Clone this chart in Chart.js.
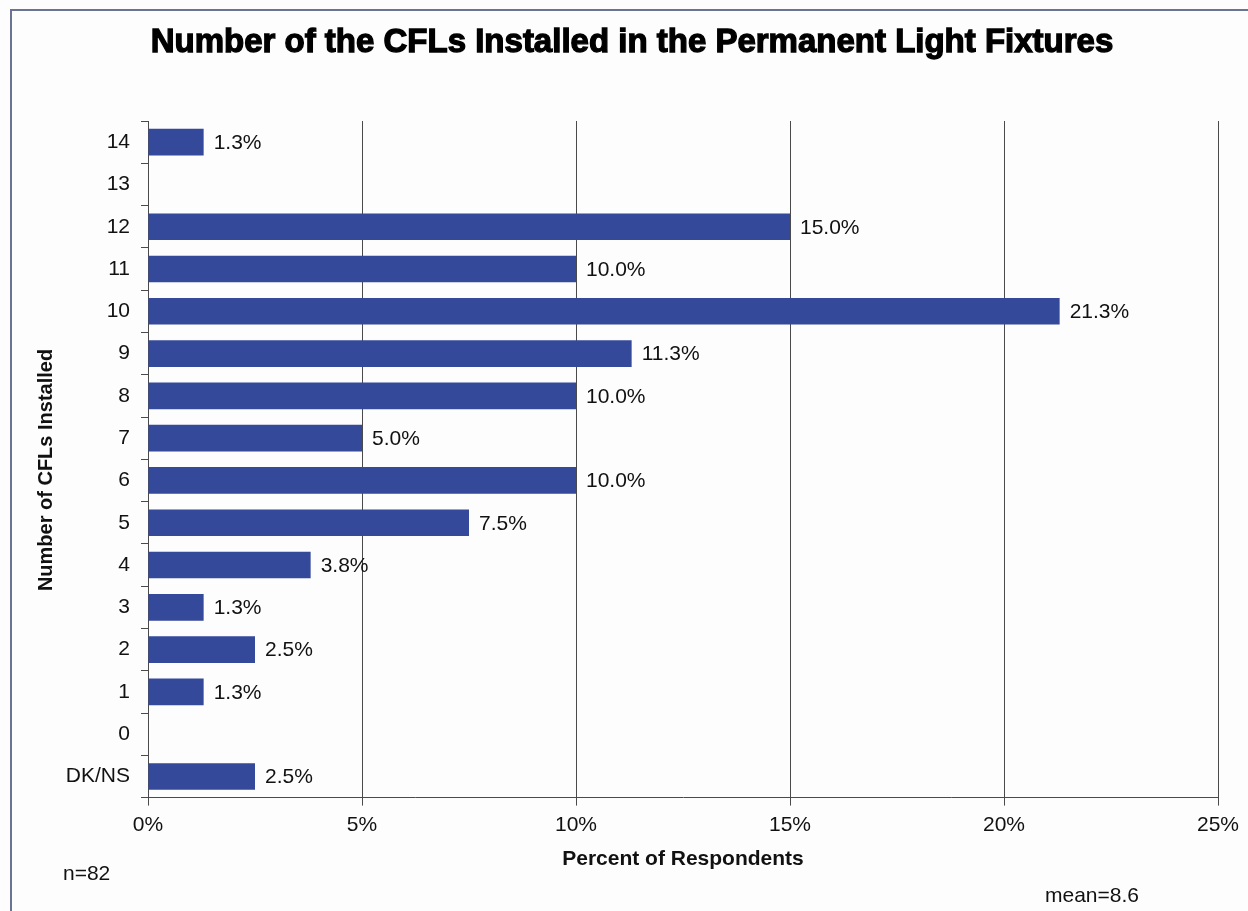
<!DOCTYPE html>
<html>
<head>
<meta charset="utf-8">
<script src="https://cdn.jsdelivr.net/npm/chart.js@4.4.0/dist/chart.umd.min.js"></script>
<style>
  html, body { margin: 0; padding: 0; background: #fdfdfd; }
  #wrap { width: 1248px; height: 911px; position: relative; }
</style>
</head>
<body>
<div id="wrap"><canvas id="cfl-chart" width="1248" height="911"></canvas></div>
<script>
// --- CFL survey: number of CFLs in permanent fixtures ---
const categories = ['14', '13', '12', '11', '10', '9', '8', '7', '6', '5', '4', '3', '2', '1', '0', 'DK/NS'];
const percents   = [1.3, 0, 15.0, 10.0, 21.3, 11.3, 10.0, 5.0, 10.0, 7.5, 3.8, 1.3, 2.5, 1.3, 0, 2.5];
const xTicks     = [0, 5, 10, 15, 20, 25];
const chartTitle = 'Number of the CFLs Installed in the Permanent Light Fixtures';
const yTitle     = 'Number of CFLs Installed';
const sampleNote = 'n=82';
const meanNote   = 'mean=8.6';

const barColor  = '#34499a';
const gridColor = '#4a4a4a';
const textColor = '#111';
const fontFam   = '"Liberation Sans", Arial, sans-serif';

// value labels at the end of each bar, titles, footnotes and the outer frame
const extrasPlugin = {
    id: 'extras',
    afterDatasetsDraw(chart) {
        const ctx = chart.ctx;
        const meta = chart.getDatasetMeta(0);
        ctx.save();
        ctx.font = `21px ${fontFam}`;
        ctx.fillStyle = textColor;
        ctx.textAlign = 'left';
        ctx.textBaseline = 'middle';
        meta.data.forEach((bar, i) => {
            if (!percents[i]) return;
            ctx.fillText(percents[i].toFixed(1) + '%', bar.x + 10, bar.y + 1);
        });
        ctx.restore();
    },
    afterDraw(chart) {
        const ctx = chart.ctx;
        ctx.save();
        ctx.strokeStyle = '#6a7390';
        ctx.lineWidth = 2;
        ctx.beginPath();
        ctx.moveTo(11, 911);
        ctx.lineTo(11, 10);
        ctx.lineTo(1248, 10);
        ctx.stroke();

        // heavy title
        ctx.font = `bold 33px ${fontFam}`;
        ctx.fillStyle = '#000';
        ctx.strokeStyle = '#000';
        ctx.lineWidth = 1.3;
        ctx.textAlign = 'center';
        ctx.textBaseline = 'middle';
        ctx.fillText(chartTitle, 632, 43);
        ctx.strokeText(chartTitle, 632, 43);

        // y axis title, rotated
        ctx.save();
        ctx.translate(46, 470);
        ctx.rotate(-Math.PI / 2);
        ctx.font = `bold 20px ${fontFam}`;
        ctx.fillStyle = textColor;
        ctx.fillText(yTitle, 0, 0);
        ctx.restore();

        ctx.font = `21px ${fontFam}`;
        ctx.fillStyle = textColor;
        ctx.textBaseline = 'middle';
        ctx.textAlign = 'left';
        ctx.fillText(sampleNote, 63, 874);
        ctx.fillText(meanNote, 1045, 896);
        ctx.restore();
    }
};

const canvas = document.getElementById('cfl-chart');
new Chart(canvas, {
    type: 'bar',
    data: {
        labels: categories,
        datasets: [{
            data: percents,
            backgroundColor: barColor,
            borderWidth: 0,
            barPercentage: 0.7,
            categoryPercentage: 0.9
        }]
    },
    options: {
        indexAxis: 'y',
        responsive: false,
        animation: false,
        layout: { padding: { top: 121, left: 34, right: 30, bottom: 39 } },
        plugins: {
            legend: { display: false },
            tooltip: { enabled: false },
            title: { display: false }
        },
        scales: {
            x: {
                min: 0,
                max: 25,
                afterBuildTicks: s => { s.ticks = xTicks.map(v => ({ value: v })); },
                grid: { color: gridColor, lineWidth: 1, tickLength: 8, drawTicks: true },
                border: { color: gridColor, width: 1 },
                ticks: {
                    color: textColor,
                    padding: 7,
                    font: { family: fontFam, size: 21 },
                    callback: v => v + '%'
                },
                title: {
                    display: true,
                    text: 'Percent of Respondents',
                    color: textColor,
                    font: { family: fontFam, size: 21, weight: 'bold' },
                    padding: { top: 2, bottom: 0 }
                }
            },
            y: {
                afterFit: s => { s.width = 114; },
                grid: { drawOnChartArea: false, drawTicks: true, tickLength: 7, color: gridColor, offset: true },
                border: { color: gridColor, width: 1 },
                ticks: {
                    color: textColor,
                    padding: 11,
                    font: { family: fontFam, size: 21 }
                }
            }
        }
    },
    plugins: [extrasPlugin]
});
</script>
</body>
</html>
